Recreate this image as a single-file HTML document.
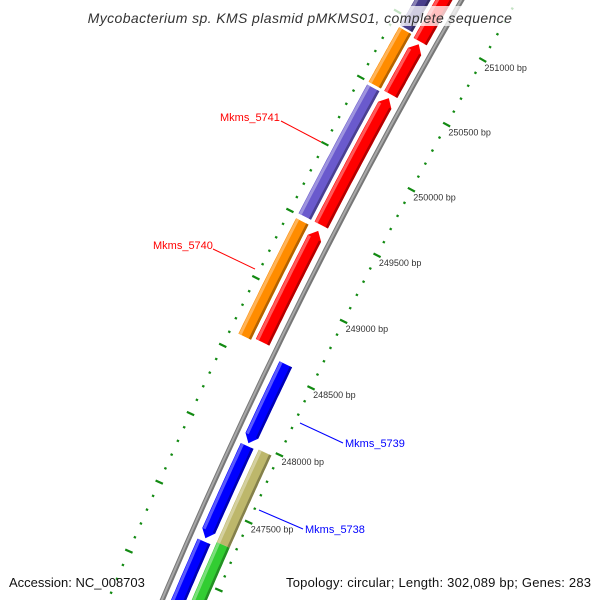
<!DOCTYPE html>
<html><head><meta charset="utf-8"><style>
html,body{margin:0;padding:0;background:#fff;overflow:hidden}
svg{display:block}
text{font-family:"Liberation Sans","DejaVu Sans",sans-serif}
</style></head><body>
<svg id="map" width="600" height="600" viewBox="0 0 600 600" xmlns="http://www.w3.org/2000/svg">
<g id="ticks"></g>
<g id="backbone"></g>
<g id="features"></g>
<g id="ticklabels"></g>
<g>
<line x1="281" y1="121" x2="321" y2="142" stroke="#f00" stroke-width="1"/>
<text x="220" y="121" font-size="11" fill="#f00">Mkms_5741</text>
<line x1="213" y1="249" x2="255" y2="269" stroke="#f00" stroke-width="1"/>
<text x="153" y="249" font-size="11" fill="#f00">Mkms_5740</text>
<line x1="300" y1="423" x2="343" y2="443" stroke="#00f" stroke-width="1"/>
<text x="345" y="447" font-size="11" fill="#00f">Mkms_5739</text>
<line x1="259" y1="510" x2="303" y2="529" stroke="#00f" stroke-width="1"/>
<text x="305" y="533" font-size="11" fill="#00f">Mkms_5738</text>
</g>
<rect x="80" y="6" width="440" height="20" fill="rgba(255,255,255,0.75)"/>
<text x="300" y="23" font-size="14" font-style="italic" fill="#333" text-anchor="middle" letter-spacing="0.4">Mycobacterium sp. KMS plasmid pMKMS01, complete sequence</text>
<text x="9" y="587" font-size="13" fill="#111">Accession: NC_008703</text>
<text x="286" y="587" font-size="13" fill="#111" textLength="305" lengthAdjust="spacing">Topology: circular; Length: 302,089 bp; Genes: 283</text>
</svg>
<script>
const featStart = [250930, 250900, 250497, 249509, 248634, 250500, 249509, 248616, 248569, 247963, 246500, 247290, 247973];
const featEnd   = [251600, 251600, 250880, 250469, 249465, 250915, 250479, 249473, 247983, 247283, 247260, 246500, 247290];
const featTrack = [-2, -1, -1, -1, -1, -2, -2, -2, 1, 1, 1, 2, 2];
const featColor = ["#483d8b","#ff0000","#ff0000","#ff0000","#ff0000","#ff8c00","#6a5acd","#ff8c00","#0000ff","#0000ff","#0000ff","#32cd32","#bdb76b"];
const featArrow = [0, 0, 1, 1, 1, 0, 0, 0, 1, 1, 0, 0, 0];
const majorTicks = [247500, 248000, 248500, 249000, 249500, 250000, 250500, 251000];
const tickLabels = ["247500 bp","248000 bp","248500 bp","249000 bp","249500 bp","250000 bp","250500 bp","251000 bp"];
const minorStep = 100;

const NS = "http://www.w3.org/2000/svg";
const R = 5500, CX = 5224.1, CY = 2751.4;
const TH0 = Math.atan2(-0.47, -0.883), ALPHA = 0.1494 / R;
function pt(bp, d) {
  const r = R - d, th = TH0 + (bp - 250000) * ALPHA;
  return [CX + r * Math.cos(th), CY + r * Math.sin(th)];
}
function arcPts(b1, b2, d) {
  const out = [], n = 24;
  for (let i = 0; i <= n; i++) out.push(pt(b1 + (b2 - b1) * i / n, d));
  return out;
}
function poly(parent, pts, fill, name) {
  const p = document.createElementNS(NS, "polygon");
  p.setAttribute("points", pts.map(q => q[0].toFixed(1) + "," + q[1].toFixed(1)).join(" "));
  p.setAttribute("fill", fill);
  
  
  parent.appendChild(p);
}
function shade(hex, f) {
  const n = parseInt(hex.slice(1), 16);
  let r = n >> 16, g = (n >> 8) & 255, b = n & 255;
  if (f > 0) { r += (255 - r) * f; g += (255 - g) * f; b += (255 - b) * f; }
  else { r *= 1 + f; g *= 1 + f; b *= 1 + f; }
  return "rgb(" + Math.round(r) + "," + Math.round(g) + "," + Math.round(b) + ")";
}
const trackD = { "-1": [-23, -8], "-2": [-41, -27], "1": [8, 22], "2": [27, 41] };
const HEAD = 55;

const tg = document.getElementById("ticks");
for (let bp = 246000; bp <= 252000; bp += minorStep) {
  const major = bp % 500 === 0;
  [48, -50].forEach(dc => {
    const h = major ? 4 : 1.2;
    const a = pt(bp, dc - h), b = pt(bp, dc + h);
    const l = document.createElementNS(NS, "line");
    l.setAttribute("x1", a[0]); l.setAttribute("y1", a[1]);
    l.setAttribute("x2", b[0]); l.setAttribute("y2", b[1]);
    l.setAttribute("stroke", "#128a12");
    l.setAttribute("stroke-width", 2.2);
    
    
    tg.appendChild(l);
  });
}
const lg = document.getElementById("ticklabels");
majorTicks.forEach((bp, i) => {
  const p = pt(bp, 58);
  const t = document.createElementNS(NS, "text");
  t.setAttribute("x", (p[0] - 7).toFixed(1));
  t.setAttribute("y", (p[1] + 6).toFixed(1));
  t.setAttribute("font-size", "9");
  t.setAttribute("fill", "#333");
  t.textContent = tickLabels[i];
  
  
  lg.appendChild(t);
});

const bg = document.getElementById("backbone");
poly(bg, arcPts(245000, 252500, -2.5).concat(arcPts(252500, 245000, 2.5)), "#777", "backbone-line");
poly(bg, arcPts(245000, 252500, -1.5).concat(arcPts(252500, 245000, 0.5)), "#a8a8a8", "backbone-highlight");

const fg = document.getElementById("features");
featStart.forEach((s, i) => {
  const e = featEnd[i];
  const [d1, d2] = trackD[String(featTrack[i])];
  const col = featColor[i];
  const dm = (d1 + d2) / 2;
  let body;
  const dir = e > s ? 1 : -1;
  if (featArrow[i]) {
    const bEnd = e - dir * HEAD;
    body = arcPts(s, bEnd, d1).concat([pt(e, dm)], arcPts(bEnd, s, d2));
  } else {
    body = arcPts(s, e, d1).concat(arcPts(e, s, d2));
  }
  poly(fg, body, col, "feature-" + i);
  const bEnd2 = featArrow[i] ? e - dir * HEAD : e;
  poly(fg, arcPts(s, bEnd2, d1 + 0.5).concat(arcPts(bEnd2, s, d1 + 3.5)), shade(col, 0.35), "feature-highlight-" + i);
  poly(fg, arcPts(s, bEnd2, d2 - 2.5).concat(arcPts(bEnd2, s, d2)), shade(col, -0.3), "feature-shadow-" + i);
});
</script>
</body></html>
